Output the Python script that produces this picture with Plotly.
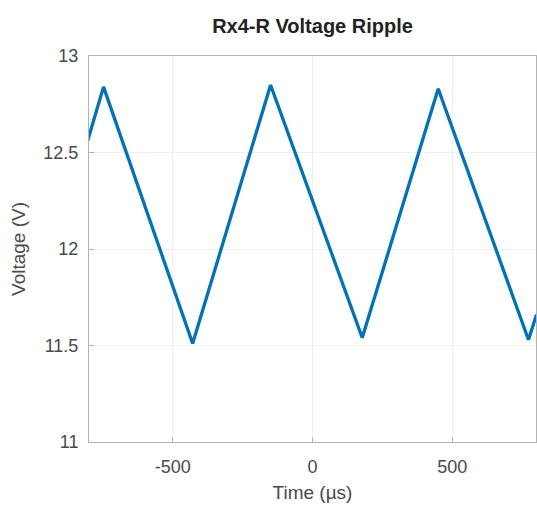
import plotly.graph_objects as go

# Data (vertices of the ripple waveform)
time_us = [-805, -748, -429, -150, 178, 450, 773, 802]
voltage_v = [12.56, 12.84, 11.51, 12.85, 11.54, 12.83, 11.53, 11.66]

x_ticks = [-500, 0, 500]
y_ticks = [11, 11.5, 12, 12.5, 13]

FONT = "Liberation Sans, Arial, Helvetica, sans-serif"
TXT = "#4a4a4a"

fig = go.Figure()
fig.add_trace(go.Scatter(
    x=time_us, y=voltage_v, mode="lines",
    line=dict(color="#0072BD", width=3.3),
    showlegend=False,
))

axis_common = dict(
    showgrid=True, gridcolor="#efefef", gridwidth=1,
    showline=True, linecolor="#b4b4b4", linewidth=1, mirror=True,
    ticks="inside", ticklen=5, tickcolor="#b4b4b4",
    zeroline=False,
    tickfont=dict(family=FONT, size=18, color=TXT),
)

fig.update_layout(
    width=537, height=510,
    margin=dict(l=89, r=1, t=56, b=68),
    paper_bgcolor="white", plot_bgcolor="white",
    title=dict(
        text="<b>Rx4-R Voltage Ripple</b>",
        font=dict(family=FONT, size=20, color="#222222"),
        x=0.582, xanchor="center", y=0.950, yanchor="middle",
    ),
    xaxis=dict(
        range=[-800, 800], tickvals=x_ticks, ticktext=[str(v) for v in x_ticks],
        title=dict(text="Time (µs)", font=dict(family=FONT, size=19, color=TXT), standoff=10),
        ticklabelstandoff=8,
        **axis_common,
    ),
    yaxis=dict(
        range=[11, 13], tickvals=y_ticks, ticktext=[f"{v:g}" for v in y_ticks],
        title=dict(text="Voltage (V)", font=dict(family=FONT, size=19, color=TXT), standoff=12),
        ticklabelstandoff=6,
        **axis_common,
    ),
)

fig.write_html("out.html")
